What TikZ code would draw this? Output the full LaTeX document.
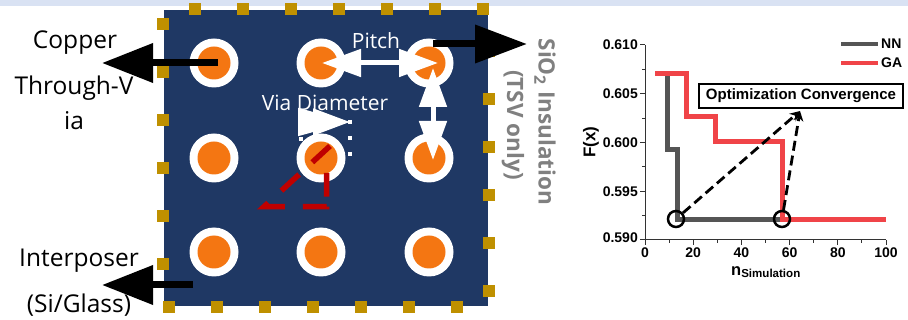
\documentclass[tikz,border=0pt]{standalone}
\usepackage{fontspec}
\setmainfont{Open Sans}
\newfontfamily\plotfont{Liberation Sans}
\usetikzlibrary{arrows.meta}
\definecolor{chipblue}{RGB}{31,56,100}
\definecolor{bandblue}{RGB}{217,226,243}
\definecolor{padgold}{RGB}{191,144,0}
\definecolor{viaorange}{RGB}{244,118,18}
\definecolor{gadred}{RGB}{240,68,72}
\definecolor{nngray}{RGB}{85,85,85}
\tikzset{
  bigarrow/.style={line width=7pt,-{Triangle[length=51pt,width=38pt]}},
  whitearrow/.style={white,line width=5pt,{Triangle[length=39pt,width=27pt]}-{Triangle[length=39pt,width=27pt]}},
  lbl/.style={font=\fontsize{24.5}{28}\selectfont},
  innerlbl/.style={font=\fontsize{21}{25}\selectfont,white},
  sidelbl/.style={font=\fontsize{22.5}{26}\selectfont\bfseries,text=gray,rotate=-90},
  plotlbl/.style={font=\plotfont\fontsize{14}{16}\selectfont\bfseries,inner sep=0pt},
}
\newcommand{\pad}[2]{\fill [color=padgold] (#1-6,#2-6) rectangle (#1+6,#2+6);}
\newcommand{\viahole}[2]{\fill [white] (#1,#2) circle (24.5); \fill [color=viaorange] (#1,#2) circle (16.5);}
\begin{document}
\begin{tikzpicture}[x=1pt,y=-1pt]
    \useasboundingbox (0,0) rectangle (908,320);
    \fill [color=bandblue] (0,0) rectangle (908,6);

    % interposer
    \fill [color=chipblue] (164,10) rectangle (488,306);
    \pad{195}{9} \pad{243}{9} \pad{291}{9} \pad{339}{9} \pad{387}{9} \pad{435}{9} \pad{483}{9}
    \pad{163}{24} \pad{163}{72} \pad{163}{120} \pad{163}{168} \pad{163}{216} \pad{163}{264}
    \pad{169}{307} \pad{217}{307} \pad{265}{307} \pad{313}{307} \pad{361}{307} \pad{409}{307} \pad{457}{307}
    \pad{489}{51} \pad{489}{99} \pad{489}{147} \pad{489}{195} \pad{489}{243} \pad{489}{291}

    \viahole{214}{63} \viahole{321}{63} \viahole{429}{63}
    \viahole{214}{158} \viahole{321}{158} \viahole{429}{158}
    \viahole{214}{252} \viahole{321}{252} \viahole{429}{252}

    % via diameter marks
    \draw [white,line width=4pt,dash pattern=on 4pt off 12pt] (350,120)--(350,160);
    \draw [white,line width=4pt,dash pattern=on 4pt off 12pt] (301,137)--(301,141);
    \coordinate (viaA) at (298,122);
    \coordinate (viaB) at (313,122);
    \coordinate (viaC) at (350,122);
    \draw [white,line width=5pt,-{Triangle[length=52pt,width=27pt]}] (viaA)--(viaC);
    \draw [white,line width=5pt,-{Triangle[length=37pt,width=26pt]}] (viaB)--(viaC);
    \draw [color=red!75!black,line width=5.5pt,miter limit=10,dash pattern=on 24pt off 18pt on 24pt off 18pt on 26.5pt off 18pt on 24pt off 10pt on 24pt] (330,146)--(264,206.7)--(326.7,206.7)--(326.7,173);

    % pitch
    \coordinate (pitchL) at (322,63);
    \coordinate (pitchR) at (438,63);
    \coordinate (pitchT) at (433,68);
    \coordinate (pitchB) at (433,160);
    \draw [whitearrow] (pitchL)--(pitchR);
    \draw [whitearrow] (pitchT)--(pitchB);
    \draw (376,41) node[innerlbl] (pitchlabel) {Pitch};
    \draw (325,103) node[innerlbl] (vialabel) {Via Diameter};

    % callouts
    \coordinate (copperA) at (218,63);
    \coordinate (copperB) at (102,63);
    \coordinate (interA) at (193,285);
    \coordinate (interB) at (102,285);
    \coordinate (sioA) at (433,44);
    \coordinate (sioB) at (527,44);
    \draw [bigarrow] (copperA)--(copperB);
    \draw [bigarrow] (interA)--(interB);
    \draw [line width=7pt,-{Triangle[length=52pt,width=37pt]}] (sioA)--(sioB);
    \draw (75,43) node[lbl] (copperlabel) {Copper};
    \draw (74,88) node[lbl] (throughlabel) {Through-V};
    \draw (74,121) node[lbl] (ialabel) {ia};
    \draw (79,261) node[lbl] (interlabel) {Interposer};
    \draw (79,305) node[lbl] (glasslabel) {(Si/Glass)};
    \draw (545,122) node[sidelbl] (siolabel) {SiO\textsubscript{2} Insulation};
    \draw (513,125) node[sidelbl] (tsvlabel) {(TSV only)};

    % convergence plot
    \draw [line width=1pt,color=black!80] (645,45)--(645,240)--(886,240);
    \draw [line width=1pt,color=black!80] (640,45)--(645,45) (640,93.75)--(645,93.75) (640,142.5)--(645,142.5) (640,191.25)--(645,191.25) (640,240)--(645,240);
    \draw [line width=1pt,color=black!80] (642,69.4)--(645,69.4) (642,118.1)--(645,118.1) (642,166.9)--(645,166.9) (642,215.6)--(645,215.6);
    \draw [line width=1pt,color=black!80] (645,240)--(645,245) (693.2,240)--(693.2,245) (741.4,240)--(741.4,245) (789.6,240)--(789.6,245) (837.8,240)--(837.8,245) (886,240)--(886,245);
    \draw [line width=1pt,color=black!80] (669.1,240)--(669.1,243) (717.3,240)--(717.3,243) (765.5,240)--(765.5,243) (813.7,240)--(813.7,243) (861.9,240)--(861.9,243);
    \draw (638,45) node[plotlbl,anchor=east] (ya) {0.610};
    \draw (638,93.75) node[plotlbl,anchor=east] (yb) {0.605};
    \draw (638,142.5) node[plotlbl,anchor=east] (yc) {0.600};
    \draw (638,191.25) node[plotlbl,anchor=east] (yd) {0.595};
    \draw (638,238) node[plotlbl,anchor=east] (ye) {0.590};
    \draw (645,253) node[plotlbl] (xa) {0};
    \draw (693.2,253) node[plotlbl] (xb) {20};
    \draw (741.4,253) node[plotlbl] (xc) {40};
    \draw (789.6,253) node[plotlbl] (xd) {60};
    \draw (837.8,253) node[plotlbl] (xe) {80};
    \draw (886,253) node[plotlbl] (xf) {100};
    \draw (591,142) node[plotlbl,font=\plotfont\fontsize{17}{19}\selectfont\bfseries,rotate=90] (ylabel) {F(x)};
    \draw (766,272) node[plotlbl,font=\plotfont\fontsize{16.5}{19}\selectfont\bfseries] (xlabel) {n\textsubscript{Simulation}};

    \draw [color=nngray,line width=5pt] (667,76)--(667,150)--(677,150)--(677,219.5)--(782,219.5);
    \draw [color=gadred,line width=5pt] (655,74)--(686,74)--(686,117)--(715,117)--(715,142)--(782,142)--(782,219.5)--(886,219.5);

    \draw [color=nngray,line width=4.5pt] (841,44)--(878,44);
    \draw [color=gadred,line width=4.5pt] (841,63)--(878,63);
    \draw (881,44) node[plotlbl,anchor=west] (nnlabel) {NN};
    \draw (881,63) node[plotlbl,anchor=west] (galabel) {GA};

    \draw (801,96) node[plotlbl,font=\plotfont\fontsize{15}{17}\selectfont\bfseries,draw,line width=2pt,minimum width=204pt,minimum height=24pt] (convbox) {Optimization Convergence};
    \draw (676,219) node[circle,draw,line width=2.5pt,minimum size=16pt,inner sep=0pt] (nnmark) {};
    \draw (782,219) node[circle,draw,line width=2.5pt,minimum size=16pt,inner sep=0pt] (gamark) {};
    \coordinate (convtip) at (800,111);
    \draw [line width=2.8pt,dash pattern=on 10pt off 5pt,-{Stealth[length=10pt,width=10pt]}] (nnmark)--(convtip);
    \draw [line width=2.8pt,dash pattern=on 10pt off 5pt,-{Stealth[length=10pt,width=10pt]}] (gamark)--(convtip);
\end{tikzpicture}
\end{document}
